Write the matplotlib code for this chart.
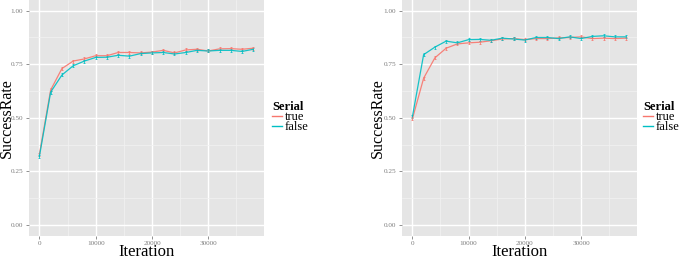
import numpy as np
import matplotlib
matplotlib.use('Agg')
import matplotlib.pyplot as plt
from matplotlib.lines import Line2D

iterations = [0, 2000, 4000, 6000, 8000, 10000, 12000, 14000, 16000, 18000,
              20000, 22000, 24000, 26000, 28000, 30000, 32000, 34000, 36000, 38000]

# left panel
left_true = [0.33, 0.63, 0.73, 0.765, 0.775, 0.79, 0.79, 0.805, 0.805, 0.803,
             0.807, 0.815, 0.803, 0.817, 0.82, 0.812, 0.822, 0.823, 0.82, 0.825]
left_false = [0.32, 0.62, 0.70, 0.743, 0.765, 0.782, 0.783, 0.792, 0.788, 0.80,
              0.803, 0.805, 0.798, 0.805, 0.815, 0.812, 0.815, 0.815, 0.81, 0.82]

# right panel
right_true = [0.495, 0.685, 0.78, 0.825, 0.845, 0.85, 0.853, 0.86, 0.868, 0.87,
              0.865, 0.87, 0.87, 0.873, 0.875, 0.878, 0.87, 0.872, 0.87, 0.872]
right_false = [0.505, 0.795, 0.83, 0.858, 0.85, 0.865, 0.866, 0.862, 0.872, 0.868,
               0.863, 0.875, 0.875, 0.87, 0.878, 0.87, 0.88, 0.883, 0.878, 0.878]

err = 0.007
RED = '#F8766D'
CYAN = '#00BFC4'

plt.rcParams['font.family'] = ['Liberation Serif', 'DejaVu Serif']

fig = plt.figure(figsize=(6.8, 2.57), dpi=100)
W, H = 680.0, 257.0

panels = [
    (28.7, 264.0, left_true, left_false, 6.5, 272.0),
    (401.7, 636.7, right_true, right_false, 377.5, 643.0),
]

for x0, x1, ytrue, yfalse, ylab_x, leg_x in panels:
    ax = fig.add_axes([x0 / W, (H - 235.7) / H, (x1 - x0) / W, 235.7 / H])
    ax.set_facecolor('#E5E5E5')
    for s in ax.spines.values():
        s.set_visible(False)
    ax.set_xlim(-1900, 39900)
    ax.set_ylim(-0.05, 1.05)
    ax.set_xticks([0, 10000, 20000, 30000])
    ax.set_xticks([5000, 15000, 25000, 35000], minor=True)
    ax.set_yticks([0, 0.25, 0.5, 0.75, 1.0])
    ax.set_yticklabels(['0.00', '0.25', '0.50', '0.75', '1.00'])
    ax.set_yticks([0.125, 0.375, 0.625, 0.875], minor=True)
    ax.grid(which='major', color='white', linewidth=1.0)
    ax.grid(which='minor', color='#F2F2F2', linewidth=0.5)
    ax.set_axisbelow(True)
    ax.tick_params(which='major', length=2.5, width=0.6, color='#7F7F7F',
                   labelsize=5.2, labelcolor='#7F7F7F', pad=1.5)
    ax.tick_params(which='minor', length=0)

    for vals, col in [(ytrue, RED), (yfalse, CYAN)]:
        ax.errorbar(iterations, vals, yerr=err, color=col, linewidth=0.9,
                    elinewidth=0.6, capsize=1.0, capthick=0.6, alpha=0.9)

    fig.text((x0 + x1) / 2 / W, 0.8 / H, 'Iteration', fontsize=12,
             ha='center', va='baseline')
    fig.text(ylab_x / W, 0.5 * (235.7 - 0) / H + (H - 235.7) / H, 'SuccessRate',
             rotation=90, fontsize=11.5, ha='center', va='center')

    handles = [Line2D([], [], color=RED, linewidth=1.0),
               Line2D([], [], color=CYAN, linewidth=1.0)]
    leg = fig.legend(handles, ['true', 'false'], title='Serial',
                     loc='upper left', bbox_to_anchor=(leg_x / W, 1 - 101 / H),
                     frameon=False, fontsize=9, title_fontsize=9,
                     handlelength=0.8, handletextpad=0.2, labelspacing=-0.15,
                     borderpad=0, borderaxespad=0)
    leg.get_title().set_fontweight('bold')
    leg._legend_box.align = 'left'

fig.savefig('out.png', dpi=100)
